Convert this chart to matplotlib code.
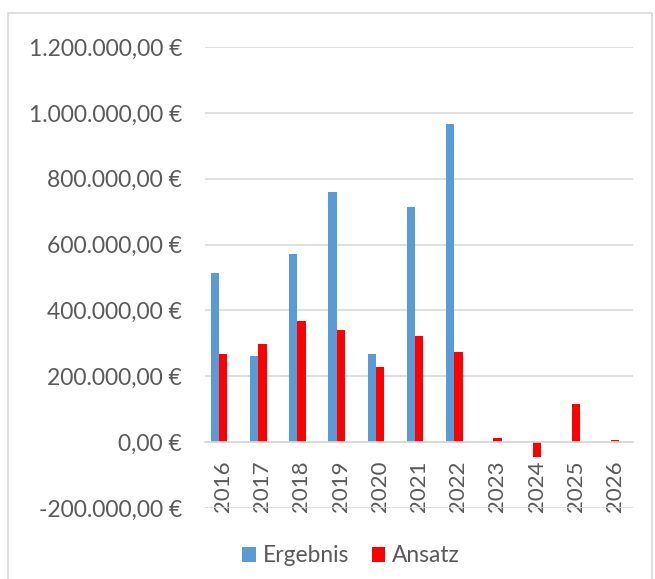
import matplotlib.pyplot as plt
import matplotlib.patches as patches
import matplotlib.transforms as mtransforms
import numpy as np

years = ["2016", "2017", "2018", "2019", "2020", "2021",
         "2022", "2023", "2024", "2025", "2026"]
ergebnis = [514000, 262000, 571000, 760000, 268000, 714000,
            967000, 0, 0, 0, 0]
ansatz = [269000, 298000, 367000, 340000, 227000, 322000,
          274000, 14000, -44000, 117000, 6000]
yticks = [-200000, 0, 200000, 400000, 600000, 800000, 1000000, 1200000]

BLUE = "#5B9BD5"
RED = "#FF0000"
GRID = "#D9D9D9"
TEXT = "#595959"

plt.rcParams["font.family"] = ["Lato", "DejaVu Sans"]


def euro(v):
    s = f"{abs(v):,.2f}".replace(",", "X").replace(".", ",").replace("X", ".")
    return ("-" if v < 0 else "") + s + " €"


fig = plt.figure(figsize=(6.55, 5.79), dpi=100)
# outer chart border (bottom edge is cut off in the original)
fig.patches.append(patches.Rectangle((8 / 655, -0.05), 644 / 655, 1 - 13 / 579 + 0.05,
                                     transform=fig.transFigure, fill=False,
                                     edgecolor=GRID, linewidth=1.2))

ax = fig.add_axes([205 / 655, 1 - 508 / 579, 428 / 655, 461 / 579])
x = np.arange(len(years))
w = 0.21
ax.bar(x - w / 2, ergebnis, width=w, color=BLUE, label="Ergebnis", zorder=3)
ax.bar(x + w / 2, ansatz, width=w, color=RED, label="Ansatz", zorder=3)

# bars sit a little left of the gridline span, as in the original
ax.set_xlim(-0.36, len(years) - 0.44)
ax.set_ylim(-200000, 1200000)
ax.set_yticks(yticks)
ax.set_yticklabels([euro(v) for v in yticks], fontsize=16.5, color=TEXT)
ax.grid(True, axis="y", color=GRID, linewidth=1.2, zorder=0)
ax.set_axisbelow(True)

for side in ("top", "right", "left"):
    ax.spines[side].set_visible(False)
ax.spines["bottom"].set_position(("data", 0))
ax.spines["bottom"].set_color(GRID)
ax.spines["bottom"].set_linewidth(1.2)
ax.spines["bottom"].set_zorder(4)

ax.set_xticks(x)
ax.set_xticklabels(years, rotation=90, fontsize=16, color=TEXT)
ax.tick_params(axis="both", length=0)
ax.tick_params(axis="y", pad=16.5)
ax.tick_params(axis="x", pad=13)
shift = mtransforms.ScaledTranslation(4 / 100, 0, fig.dpi_scale_trans)
for lab in ax.get_xticklabels():
    lab.set_transform(lab.get_transform() + shift)

fig.legend(loc="center", bbox_to_anchor=(351 / 655, 1 - 556 / 579), ncol=2,
           frameon=False, fontsize=16.4, labelcolor=TEXT, handlelength=0.6,
           handleheight=0.6, handletextpad=0.3, columnspacing=1.0)

fig.savefig("out.png", dpi=100)
